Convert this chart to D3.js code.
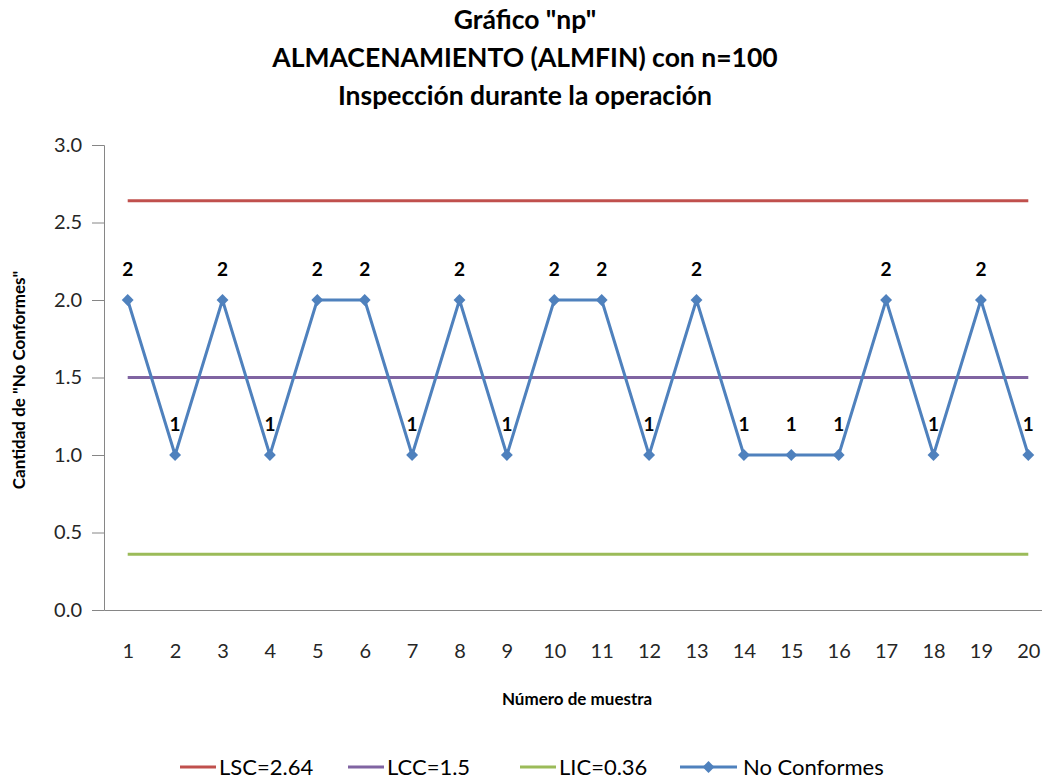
<!DOCTYPE html>
<html>
<head>
<meta charset="utf-8">
<script src="https://cdn.jsdelivr.net/npm/d3@7"></script>
<style>
  body { margin: 0; background: #fff; }
  text { font-family: Lato, "Open Sans", sans-serif; }
</style>
</head>
<body>
<div class="plot"></div>
<script>
// Data
const muestras = d3.range(1, 21);
const noConformes = [2, 1, 2, 1, 2, 2, 1, 2, 1, 2, 2, 1, 2, 1, 1, 1, 2, 1, 2, 1];
const limites = [
    {name: "LSC=2.64", value: 2.64, color: "#C0504D"},
    {name: "LCC=1.5", value: 1.5, color: "#8064A2"},
    {name: "LIC=0.36", value: 0.36, color: "#9BBB59"}
];
const yTicks = [0, 0.5, 1, 1.5, 2, 2.5, 3];
const titleLines = ["Gráfico \"np\"", "ALMACENAMIENTO (ALMFIN) con n=100", "Inspección durante la operación"];

const W = 1042, H = 780;
const plot = {left: 104, right: 1052, top: 145, bottom: 610};
const blue = "#4F81BD";

const svg = d3.select(".plot")
    .append("svg")
        .attr("width", W)
        .attr("height", H);

const x = d3.scalePoint()
    .domain(muestras)
    .range([plot.left, plot.right])
    .padding(0.5);

const y = d3.scaleLinear()
    .domain([0, 3])
    .range([plot.bottom, plot.top]);

// Title
svg.append("g").selectAll("text")
    .data(titleLines)
    .enter()
    .append("text")
        .attr("x", 525)
        .attr("y", (d, i) => 29 + i * 38)
        .attr("text-anchor", "middle")
        .style("font-size", "26.5px")
        .style("font-weight", "bold")
        .style("fill", "#000")
        .text(d => d);

// Y axis
const yAxis = d3.axisLeft(y)
    .tickValues(yTicks)
    .tickSize(12)
    .tickPadding(10)
    .tickFormat(d3.format(".1f"));

const gy = svg.append("g")
    .attr("transform", `translate(${plot.left},0)`)
    .call(yAxis);
gy.select(".domain").attr("stroke", "#868686");
gy.selectAll(".tick line").attr("stroke", "#868686");
gy.selectAll(".tick text")
    .style("font-size", "20px")
    .style("fill", "#262626")
    .style("font-family", "Lato, sans-serif");

// X axis
const xAxis = d3.axisBottom(x)
    .tickSize(0)
    .tickPadding(34);

const gx = svg.append("g")
    .attr("transform", `translate(0,${plot.bottom})`)
    .call(xAxis);
gx.select(".domain").attr("stroke", "#868686");
gx.selectAll(".tick text")
    .style("font-size", "20px")
    .style("fill", "#262626")
    .style("font-family", "Lato, sans-serif");

// Axis titles
svg.append("text")
    .attr("x", 577)
    .attr("y", 705)
    .attr("text-anchor", "middle")
    .style("font-size", "17px")
    .style("font-weight", "bold")
    .text("Número de muestra");

svg.append("text")
    .attr("transform", "translate(25,380) rotate(-90)")
    .attr("text-anchor", "middle")
    .style("font-size", "17px")
    .style("font-weight", "bold")
    .text("Cantidad de \"No Conformes\"");

// Control limit lines
svg.append("g").selectAll("line")
    .data(limites)
    .enter()
    .append("line")
        .attr("x1", x(muestras[0]))
        .attr("x2", x(muestras[muestras.length - 1]))
        .attr("y1", d => y(d.value))
        .attr("y2", d => y(d.value))
        .attr("stroke", d => d.color)
        .attr("stroke-width", 3);

// Series
const series = muestras.map((m, i) => ({m: m, v: noConformes[i]}));

const line = d3.line()
    .x(d => x(d.m))
    .y(d => y(d.v));

svg.append("path")
    .datum(series)
    .attr("d", line)
    .attr("fill", "none")
    .attr("stroke", blue)
    .attr("stroke-width", 3)
    .attr("stroke-linejoin", "round");

const diamond = d3.symbol().type(d3.symbolDiamond2).size(90);

svg.append("g").selectAll("path")
    .data(series)
    .enter()
    .append("path")
        .attr("d", diamond)
        .attr("transform", d => `translate(${x(d.m)},${y(d.v)})`)
        .attr("fill", blue);

// Data labels
svg.append("g").selectAll("text")
    .data(series)
    .enter()
    .append("text")
        .attr("x", d => x(d.m))
        .attr("y", d => y(d.v) - 24)
        .attr("text-anchor", "middle")
        .style("font-size", "19px")
        .style("font-weight", "bold")
        .text(d => d.v);

// Legend
const legendItems = limites.map(d => ({name: d.name, color: d.color, marker: false}))
    .concat([{name: "No Conformes", color: blue, marker: true}]);
const legendX = [180, 348, 520, 680];

const legend = svg.append("g")
    .attr("transform", "translate(0,767)");

const item = legend.selectAll("g")
    .data(legendItems)
    .enter()
    .append("g")
        .attr("transform", (d, i) => `translate(${legendX[i]},0)`);

item.append("line")
    .attr("x1", 0)
    .attr("x2", d => d.marker ? 57 : 36)
    .attr("stroke", d => d.color)
    .attr("stroke-width", 3);

item.filter(d => d.marker)
    .append("path")
        .attr("d", diamond)
        .attr("transform", "translate(28.5,0)")
        .attr("fill", blue);

item.append("text")
    .attr("x", d => d.marker ? 63 : 39)
    .attr("y", 8)
    .style("font-size", "22px")
    .text(d => d.name);
</script>
</body>
</html>
